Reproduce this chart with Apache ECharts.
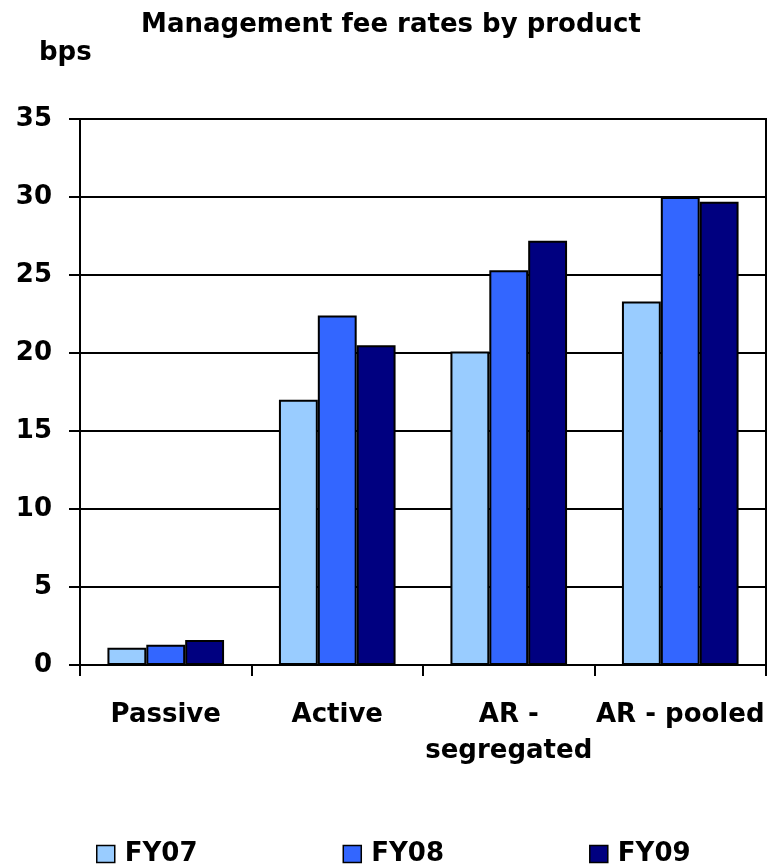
<!DOCTYPE html>
<html>
<head>
<meta charset="utf-8">
<script src="https://cdn.jsdelivr.net/npm/echarts@6/dist/echarts.min.js"></script>
<style>
  html, body { margin: 0; padding: 0; background: #fff; }
  #chart { width: 771px; height: 867px; }
</style>
</head>
<body>
<div id="chart"></div>
<script>
// Management fee rates (bps) by product, three fiscal years
const products = ['Passive', 'Active', 'AR - segregated', 'AR - pooled'];
const fy07 = [1.1, 17.0, 20.1, 23.3];
const fy08 = [1.3, 22.4, 25.3, 30.0];
const fy09 = [1.6, 20.5, 27.2, 29.7];
const seriesNames = ['FY07', 'FY08', 'FY09'];
const yTicks = [0, 5, 10, 15, 20, 25, 30, 35];

const FONT = 'DejaVu Sans';
const colors = ['#99CCFF', '#3366FF', '#000080'];

const chart = echarts.init(document.getElementById('chart'), null, { renderer: 'canvas' });

function barSeries(name, data, color) {
  return {
    name: name,
    type: 'bar',
    data: data,
    barGap: '0%',
    barCategoryGap: '32%',
    itemStyle: { color: color, borderColor: '#000', borderWidth: 2 },
    emphasis: { disabled: true }
  };
}

chart.setOption({
  animation: false,
  title: {
    text: 'Management fee rates by product',
    left: 386,
    textAlign: 'center',
    top: 7,
    textStyle: { fontFamily: FONT, fontWeight: 'bold', fontSize: 26, color: '#000' }
  },
  graphic: [{
    type: 'text',
    left: 39,
    top: 40,
    style: { text: 'bps', font: 'bold 26px "DejaVu Sans"', fill: '#000' }
  }],
  grid: {
    left: 80, right: 5, top: 119, bottom: 202,
    show: true, borderColor: '#000', borderWidth: 2, backgroundColor: 'transparent'
  },
  legend: {
    data: seriesNames,
    bottom: 0,
    left: 96,
    padding: 0,
    icon: 'rect',
    itemWidth: 18,
    itemHeight: 17,
    itemGap: 145,
    itemStyle: { borderColor: '#000', borderWidth: 1.5 },
    textStyle: { fontFamily: FONT, fontWeight: 'bold', fontSize: 26, color: '#000', padding: [0, 0, 0, 5] }
  },
  xAxis: {
    type: 'category',
    data: products,
    boundaryGap: true,
    axisLine: { lineStyle: { color: '#000', width: 2 } },
    axisTick: { show: true, length: 11, lineStyle: { color: '#000', width: 2 } },
    axisLabel: {
      interval: 0,
      margin: 32,
      fontFamily: FONT, fontWeight: 'bold', fontSize: 26, color: '#000',
      lineHeight: 36,
      formatter: v => v === 'AR - segregated' ? 'AR -\nsegregated' : v
    }
  },
  yAxis: {
    type: 'value',
    min: yTicks[0],
    max: yTicks[yTicks.length - 1],
    interval: 5,
    axisLine: { show: true, lineStyle: { color: '#000', width: 2 } },
    axisTick: { show: true, length: 11, lineStyle: { color: '#000', width: 2 } },
    splitLine: { show: true, lineStyle: { color: '#000', width: 2 } },
    axisLabel: {
      margin: 28,
      fontFamily: FONT, fontWeight: 'bold', fontSize: 26, color: '#000'
    }
  },
  series: [
    barSeries(seriesNames[0], fy07, colors[0]),
    barSeries(seriesNames[1], fy08, colors[1]),
    barSeries(seriesNames[2], fy09, colors[2])
  ]
});
</script>
</body>
</html>
